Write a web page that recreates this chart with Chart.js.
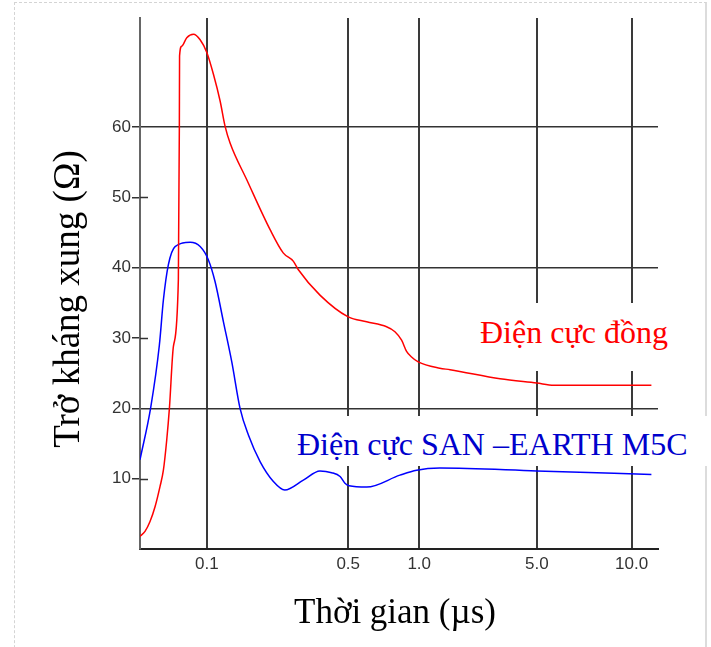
<!DOCTYPE html>
<html lang="vi">
<head>
<meta charset="UTF-8">
<title>Trở kháng xung</title>
<script src="https://cdn.jsdelivr.net/npm/chart.js"></script>
<style>
  body { margin: 0; background: #fff; }
  #wrap { position: relative; width: 711px; height: 647px; overflow: hidden; }
  #frame { position: absolute; left: 14px; top: 2px; width: 690px; height: 700px;
           border-left: 1px dashed #d4d4d4; border-top: 1px dashed #d4d4d4; border-right: 2px solid #dcdcdc; }
  canvas { position: absolute; left: 0; top: 0; }
  .serif { position: absolute; font-family: 'Liberation Serif', 'Times New Roman', serif; white-space: nowrap; }
  .lbl { background: #fff; font-size: 32px; line-height: 36px; box-sizing: border-box; }
  #lblRed { left: 473px; top: 303px; width: 210px; height: 68px; padding: 11px 0 0 7px; color: #ff0000; }
  #lblBlue { left: 290px; top: 416px; width: 424px; height: 50px; padding: 10px 0 0 7px; color: #0000cc; }
  #xTitle { left: 294px; top: 592px; font-size: 35px; line-height: 40px; color: #000; }
  #yTitle { left: -133px; top: 278px; width: 400px; text-align: center; font-size: 37px; line-height: 42px;
            color: #000; transform: rotate(-90deg); }
</style>
</head>
<body>
<div id="wrap">
  <div id="frame"></div>
  <canvas id="chart" width="711" height="647"></canvas>
  <div id="lblRed" class="serif lbl">Điện cực đồng</div>
  <div id="lblBlue" class="serif lbl">Điện cực SAN –EARTH M5C</div>
  <div id="xTitle" class="serif">Thời gian (µs)</div>
  <div id="yTitle" class="serif">Trở kháng xung (Ω)</div>
</div>

<script>
// time axis ticks (µs) and their labels
const xTickValues = [0.1, 0.5, 1.0, 5.0, 10.0];
const xTickLabels = ['0.1', '0.5', '1.0', '5.0', '10.0'];
// impedance axis ticks (Ω); only some carry a full grid line
const yTickValues = [10, 20, 30, 40, 50, 60];
const yGridValues = [20, 40, 60];

// copper electrode
const copperTime = [0, 0.0075, 0.015, 0.0225, 0.030, 0.035, 0.040, 0.044, 0.050, 0.0574, 0.0589, 0.0592,
                    0.0625, 0.070, 0.080, 0.090, 0.100, 0.1187, 0.1376, 0.1517, 0.166, 0.213, 0.279, 0.316,
                    0.345, 0.359, 0.420, 0.500, 0.630, 0.770, 0.829, 0.876, 0.911, 0.946, 0.993,
                    1.7, 2.05, 3.75, 5.0, 5.9, 11.05];
const copperOhm  = [1.8, 2.5, 3.9, 6.0, 8.9, 11.2, 15.5, 20.0, 28.8, 38.3, 60.2, 70.1,
                    71.5, 72.7, 73.2, 72.4, 70.6, 67.5, 63.7, 60.1, 57.7, 52.5, 45.4, 42.1,
                    40.9, 39.7, 36.1, 33.0, 32.3, 31.6, 30.9, 29.7, 28.1, 27.3, 26.6,
                    25.7, 25.5, 24.2, 23.6, 23.3, 23.3];

// SAN-EARTH M5C electrode
const sanTime = [0, 0.016, 0.029, 0.035, 0.0424, 0.0525, 0.075, 0.090, 0.1045, 0.1234, 0.147, 0.1706, 0.194,
                 0.2176, 0.251, 0.2883, 0.3206, 0.373, 0.420, 0.4532, 0.477, 0.4907, 0.506, 0.630, 0.864,
                 0.982, 1.7, 5.0, 11.05];
const sanOhm  = [12.7, 20.1, 29.0, 35.4, 40.4, 43.0, 43.6, 43.0, 41.1, 38.0, 32.3, 26.6, 20.0,
                 16.2, 12.4, 9.6, 8.4, 9.8, 11.1, 10.85, 10.3, 9.35, 9.0, 8.8, 10.5,
                 11.2, 11.5, 11.1, 10.6];

// the original time axis is hand-spaced, neither linear nor log:
// each stop value sits at the given fraction of the axis width
const axisStopValues = [0, 0.1, 0.5, 1, 5, 10, 11.4];
const axisStopFracs  = [0, 0.129, 0.402, 0.539, 0.766, 0.949, 1];

function valueToFrac(v) {
  const s = axisStopValues, f = axisStopFracs;
  let i = 1;
  while (i < s.length - 1 && v > s[i]) i++;
  return f[i - 1] + (v - s[i - 1]) / (s[i] - s[i - 1]) * (f[i] - f[i - 1]);
}
function fracToValue(d) {
  const s = axisStopValues, f = axisStopFracs;
  let i = 1;
  while (i < f.length - 1 && d > f[i]) i++;
  return s[i - 1] + (d - f[i - 1]) / (f[i] - f[i - 1]) * (s[i] - s[i - 1]);
}

class PiecewiseScale extends Chart.LinearScale {
  getPixelForValue(value) {
    if (value === null || value === undefined) return NaN;
    return this.getPixelForDecimal(valueToFrac(value));
  }
  getValueForPixel(pixel) {
    return fracToValue(this.getDecimalForPixel(pixel));
  }
}
PiecewiseScale.id = 'piecewise';
PiecewiseScale.defaults = Chart.LinearScale.defaults;
Chart.register(PiecewiseScale);

const toPoints = (xs, ys) => xs.map((x, i) => ({ x: x, y: ys[i] }));

// short stubs into the plot for the ticks without a grid line
const innerTicks = {
  id: 'innerTicks',
  beforeDatasetsDraw(chart) {
    const y = chart.scales.y, left = chart.chartArea.left, c = chart.ctx;
    c.save();
    c.strokeStyle = '#333';
    c.lineWidth = 1.5;
    yTickValues.filter(v => !yGridValues.includes(v)).forEach(v => {
      const py = Math.round(y.getPixelForValue(v)) + 0.5;
      c.beginPath();
      c.moveTo(left, py);
      c.lineTo(left + 8, py);
      c.stroke();
    });
    c.restore();
  }
};

const tickFont = { family: "'Liberation Sans', Arial, sans-serif", size: 17 };

new Chart(document.getElementById('chart'), {
  type: 'line',
  data: {
    datasets: [
      { label: 'Điện cực đồng', data: toPoints(copperTime, copperOhm), borderColor: '#ff0000',
        borderWidth: 1.5, pointRadius: 0, cubicInterpolationMode: 'monotone' },
      { label: 'Điện cực SAN –EARTH M5C', data: toPoints(sanTime, sanOhm), borderColor: '#0000ff',
        borderWidth: 1.5, pointRadius: 0, cubicInterpolationMode: 'monotone' }
    ]
  },
  options: {
    responsive: false,
    animation: false,
    devicePixelRatio: 1,
    layout: { padding: { left: 0, right: 53, top: 18, bottom: 0 } },
    plugins: { legend: { display: false }, tooltip: { enabled: false } },
    scales: {
      x: {
        type: 'piecewise',
        min: 0,
        max: 11.4,
        afterBuildTicks: s => { s.ticks = xTickValues.map(v => ({ value: v })); },
        afterFit: s => { s.height = 98; },
        grid: { color: '#3a3a3a', lineWidth: 2, drawTicks: false },
        border: { color: '#222', width: 2 },
        ticks: { autoSkip: false, maxRotation: 0, padding: 5, color: '#333', font: tickFont,
                 callback: (v, i) => xTickLabels[i] }
      },
      y: {
        min: 0,
        max: 75.5,
        afterBuildTicks: s => { s.ticks = yTickValues.map(v => ({ value: v })); },
        afterFit: s => { s.width = 140; },
        grid: {
          color: c => yGridValues.includes(c.tick && c.tick.value) ? '#333' : 'rgba(0,0,0,0)',
          tickColor: '#333',
          lineWidth: 1.5,
          tickLength: 8
        },
        border: { color: '#666', width: 2 },
        ticks: { padding: 1, color: '#333', font: tickFont }
      }
    }
  },
  plugins: [innerTicks]
});
</script>
</body>
</html>
